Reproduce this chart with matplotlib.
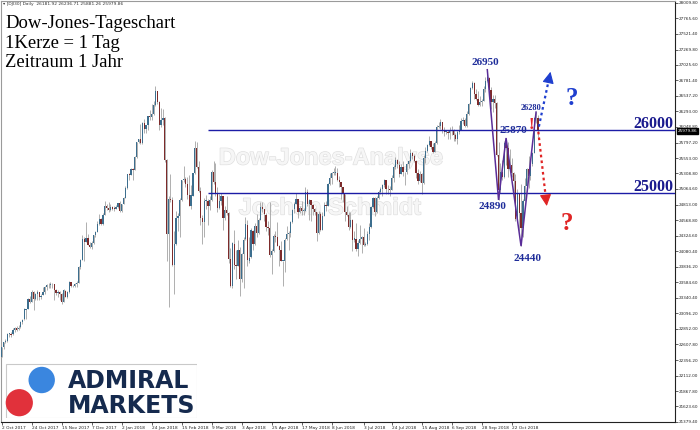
import matplotlib
matplotlib.use("Agg")
import matplotlib.pyplot as plt
import matplotlib.patheffects as pe
import matplotlib.transforms as mtransforms
from matplotlib.patches import Circle, Rectangle
import numpy as np
import pandas as pd

# ------------------------------------------------------------------ data
holidays = ["2017-12-25", "2018-01-01", "2018-03-30"]
trade_days = pd.bdate_range("2017-10-02", "2018-11-09").drop(pd.to_datetime(holidays))

opens = [
    # Oct 2017
    22405, 22560, 22640, 22665, 22770, 22775, 22765, 22830, 22870, 22845, 22875,
    22955, 23000, 23155, 23165, 23330, 23275, 23440, 23330, 23400, 23430, 23350,
    # Nov 2017
    23380, 23435, 23515, 23540, 23550, 23555, 23560, 23460, 23420, 23440, 23410,
    23275, 23455, 23360, 23430, 23590, 23525, 23530, 23560, 23580, 23835, 23940,
    # Dec 2017
    24270, 24230, 24290, 24180, 24140, 24210, 24330, 24385, 24505, 24585,
    24510, 24650, 24790, 24755, 24725, 24780, 24750, 24745, 24775, 24835,
    # Jan 2018
    24720, 24825, 24920, 25075, 25295, 25285, 25385, 25370, 25575, 25805, 25850,
    25790, 26115, 26015, 26070, 26215, 26210, 26250, 26390, 26615, 26440, 26075,
    # Feb 2018
    26150, 26185, 25520, 24345, 24910, 24890, 23860, 24190, 24600, 24640,
    24890, 25200, 25220, 25150, 24965, 24795, 24960, 25310, 25710, 25410,
    # Mar 2018
    25030, 24600, 24540, 24875, 24880, 24800, 24895, 25335, 25180, 25005, 24760,
    24875, 24945, 24610, 24730, 24680, 23955, 23530, 24200, 23855, 23850,
    # Apr 2018
    24100, 23645, 24030, 24265, 24500, 23930, 23980, 24405, 24190, 24480, 24360,
    24575, 24785, 24745, 24660, 24460, 24450, 24020, 24085, 24320, 24310,
    # May 2018
    24160, 24100, 23925, 23930, 24265, 24355, 24360, 24540, 24740, 24830, 24900, 24705,
    24770, 24715, 24715, 25015, 24830, 24885, 24810, 24750, 24700, 24360, 24665,
    # Jun 2018
    24415, 24635, 24815, 24800, 25145, 25240, 25320, 25320, 25320, 25200, 25175,
    25090, 24985, 24700, 24655, 24460, 24580, 24250, 24280, 24115, 24215,
    # Jul 2018
    24270, 24305, 24175, 24200, 24355, 24455, 24775, 24920, 24700, 24925, 25020,
    25065, 25120, 25200, 25065, 25060, 25045, 25240, 25415, 25525, 25450, 25305,
    # Aug 2018
    25415, 25330, 25325, 25460, 25500, 25630, 25580, 25510, 25310, 25185, 25300, 25160,
    25560, 25670, 25760, 25820, 25735, 25655, 25790, 26050, 26065, 26125, 25985,
    # Sep 2018
    25965, 25970, 25950, 25975, 25995, 25915, 25855, 25970, 26000, 26145,
    26155, 26060, 26245, 26405, 26655, 26740, 26560, 26490, 26385, 26440,
    # Oct 2018
    26460, 26650, 26775, 26825, 26625, 26445, 26485, 26430, 25595, 25050, 25340, 25250,
    25800, 25705, 25380, 25445, 25315, 25190, 24580, 24985, 24690, 24445, 24875,
    # Nov 2018
    25115, 25380, 25270, 25460, 25635, 26180, 26182,
]
highs = [
    22565, 22650, 22685, 22780, 22790, 22800, 22860, 22880, 22900, 22910, 22970,
    23005, 23175, 23170, 23340, 23370, 23460, 23450, 23420, 23460, 23440, 23400,
    23520, 23530, 23560, 23570, 23600, 23580, 23565, 23480, 23470, 23450, 23420,
    23480, 23470, 23450, 23610, 23600, 23540, 23570, 23610, 23850, 23960, 24330,
    24300, 24535, 24350, 24220, 24240, 24340, 24400, 24550, 24670, 24610,
    24690, 24880, 24830, 24850, 24830, 24790, 24790, 24810, 24840, 24870,
    24830, 24940, 25110, 25300, 25310, 25400, 25390, 25580, 25810, 25860, 26090,
    26130, 26170, 26080, 26220, 26310, 26400, 26460, 26690, 26620, 26450, 26340,
    26330, 26200, 25530, 24950, 25300, 24940, 24400, 24720, 24690, 24920,
    25200, 25430, 25260, 25250, 25280, 25120, 25320, 25820, 25800, 25500,
    25100, 24650, 24920, 24970, 24900, 24950, 25360, 25500, 25480, 25100, 24990,
    25000, 24950, 24790, 24950, 24700, 24130, 24230, 24420, 24100, 24250,
    24150, 24050, 24300, 24620, 24580, 24310, 24450, 24420, 24530, 24670, 24600,
    24860, 24860, 24750, 24680, 24560, 24860, 24120, 24350, 24400, 24540,
    24170, 24240, 23930, 24290, 24480, 24400, 24560, 24750, 24850, 25000, 24900, 24800,
    24880, 24770, 25090, 25070, 24900, 24890, 24830, 24760, 24700, 24720, 24700,
    24700, 24860, 24870, 25160, 25320, 25330, 25400, 25420, 25400, 25270, 25180,
    25100, 24990, 24800, 24700, 24700, 24590, 24400, 24530, 24250, 24500,
    24320, 24440, 24230, 24400, 24520, 24800, 24930, 24930, 24950, 25050, 25100,
    25150, 25220, 25210, 25130, 25110, 25290, 25450, 25570, 25540, 25500, 25460,
    25500, 25340, 25480, 25520, 25700, 25650, 25620, 25520, 25380, 25350, 25310, 25600,
    25720, 25780, 25900, 25830, 25790, 25820, 26080, 26130, 26170, 26130, 26040,
    25990, 26000, 26050, 26060, 26010, 25950, 26000, 26070, 26180, 26200,
    26190, 26290, 26420, 26680, 26770, 26750, 26640, 26620, 26530, 26480,
    26700, 26830, 26950, 26840, 26680, 26550, 26550, 26440, 25800, 25480, 25520, 25830,
    25870, 25800, 25700, 25560, 25330, 25300, 25070, 25000, 25150, 24900, 25240,
    25400, 25580, 25480, 25650, 26200, 26280, 26237,
]
lows = [
    22400, 22540, 22620, 22650, 22720, 22730, 22750, 22800, 22820, 22840, 22860,
    22930, 22995, 23000, 23160, 23260, 23270, 23150, 23300, 23300, 23300, 23330,
    23380, 23400, 23470, 23500, 23500, 23500, 23300, 23380, 23350, 23300, 23240,
    23270, 23350, 23340, 23425, 23510, 23510, 23520, 23520, 23570, 23800, 23935,
    23920, 24220, 24170, 24130, 24120, 24200, 24300, 24380, 24500, 24500,
    24500, 24650, 24730, 24700, 24720, 24730, 24720, 24740, 24760, 24700,
    24700, 24820, 24920, 25070, 25200, 25280, 25200, 25360, 25560, 25790, 25770,
    25780, 25950, 25950, 26000, 26150, 26150, 26240, 26380, 26400, 25990, 26050,
    26070, 25490, 23920, 23200, 24850, 23840, 23400, 24180, 24400, 24300,
    24870, 25180, 25100, 24900, 24790, 24750, 24950, 25300, 25390, 25020,
    24500, 24200, 24300, 24750, 24500, 24730, 24880, 25150, 24950, 24700, 24750,
    24810, 24410, 24580, 24650, 23900, 23510, 23500, 23800, 23640, 23850,
    23370, 23600, 23500, 24260, 23850, 23900, 23970, 24100, 24180, 24300, 24350,
    24570, 24700, 24550, 24400, 24330, 23990, 23720, 24070, 24230, 24160,
    23850, 23920, 23530, 23750, 24250, 24100, 24300, 24530, 24680, 24820, 24600, 24690,
    24650, 24660, 24710, 24800, 24580, 24550, 24650, 24650, 24240, 24350, 24400,
    24410, 24630, 24720, 24790, 25130, 25140, 25290, 25280, 25190, 25100, 24900,
    24850, 24560, 24640, 24420, 24450, 24080, 24230, 24090, 24000, 24200,
    24050, 24160, 24160, 24170, 24250, 24450, 24770, 24630, 24690, 24900, 24980,
    24950, 25100, 24980, 24990, 24960, 25040, 25180, 25380, 25390, 25260, 25300,
    25270, 25130, 25300, 25400, 25490, 25540, 25490, 25240, 25150, 25180, 24980, 25150,
    25480, 25650, 25740, 25700, 25640, 25650, 25780, 26030, 26020, 25950, 25900,
    25940, 25850, 25860, 25920, 25830, 25820, 25770, 25930, 25990, 26090,
    26040, 26040, 26240, 26400, 26640, 26480, 26470, 26370, 26380, 26370,
    26450, 26600, 26760, 26550, 26330, 26280, 26340, 25580, 24890, 25000, 25200, 25240,
    25450, 25260, 25370, 25250, 24890, 24560, 24550, 24400, 24160, 24300, 24870,
    25040, 25080, 25200, 25420, 25630, 26100, 25881,
]
closes = [
    22557, 22641, 22661, 22775, 22774, 22761, 22831, 22872, 22841, 22871, 22957,
    22997, 23158, 23163, 23329, 23274, 23441, 23330, 23401, 23434, 23349, 23377,
    23436, 23517, 23539, 23549, 23557, 23564, 23462, 23422, 23440, 23410, 23272,
    23458, 23358, 23431, 23591, 23526, 23530, 23558, 23580, 23836, 23940, 24272,
    24231, 24290, 24181, 24140, 24212, 24329, 24387, 24505, 24585, 24509,
    24652, 24792, 24755, 24726, 24782, 24754, 24746, 24775, 24838, 24719,
    24824, 24922, 25075, 25295, 25283, 25385, 25369, 25574, 25803, 25850, 25792,
    26115, 26017, 26071, 26214, 26210, 26252, 26392, 26616, 26439, 26076, 26149,
    26186, 25520, 24345, 24912, 24893, 23860, 24190, 24601, 24640, 24893,
    25200, 25219, 25150, 24964, 24797, 24962, 25310, 25709, 25410, 25029,
    24608, 24538, 24874, 24884, 24801, 24895, 25335, 25178, 25007, 24758, 24873,
    24946, 24610, 24727, 24682, 23957, 23533, 24202, 23857, 23848, 24103,
    23644, 24033, 24264, 24505, 23933, 23979, 24408, 24189, 24483, 24360, 24573,
    24786, 24748, 24664, 24463, 24449, 24024, 24084, 24322, 24311, 24163,
    24099, 23925, 23930, 24263, 24357, 24360, 24542, 24739, 24831, 24899, 24706, 24768,
    24713, 24715, 25013, 24834, 24886, 24811, 24753, 24700, 24361, 24667, 24416,
    24635, 24813, 24799, 25146, 25241, 25317, 25322, 25320, 25201, 25175, 25090,
    24987, 24700, 24657, 24461, 24580, 24252, 24283, 24117, 24216, 24271,
    24307, 24174, 24200, 24356, 24456, 24776, 24919, 24700, 24924, 25019, 25064,
    25120, 25199, 25064, 25058, 25044, 25241, 25414, 25527, 25451, 25307, 25415,
    25333, 25326, 25463, 25502, 25629, 25583, 25509, 25313, 25187, 25299, 25162, 25558,
    25669, 25758, 25822, 25733, 25656, 25790, 26049, 26064, 26124, 25986, 25964,
    25970, 25952, 25974, 25995, 25916, 25857, 25971, 25998, 26145, 26154,
    26062, 26246, 26405, 26656, 26743, 26562, 26492, 26385, 26439, 26458,
    26651, 26773, 26828, 26627, 26447, 26486, 26430, 25598, 25052, 25340, 25250, 25798,
    25706, 25379, 25444, 25317, 25191, 24583, 24984, 24688, 24443, 24875, 25116,
    25380, 25270, 25461, 25635, 26180, 26191, 25980,
]

xtick_dates = ["2017-10-02", "2017-10-24", "2017-11-15", "2017-12-07", "2018-01-02",
               "2018-01-24", "2018-02-15", "2018-03-09", "2018-04-03", "2018-04-25",
               "2018-05-17", "2018-06-08", "2018-07-03", "2018-07-24", "2018-08-15",
               "2018-09-06", "2018-09-28", "2018-10-22"]
xtick_labels = ["2 Oct 2017", "24 Oct 2017", "15 Nov 2017", "7 Dec 2017", "2 Jan 2018",
                "24 Jan 2018", "15 Feb 2018", "9 Mar 2018", "3 Apr 2018", "25 Apr 2018",
                "17 May 2018", "8 Jun 2018", "3 Jul 2018", "24 Jul 2018", "15 Aug 2018",
                "6 Sep 2018", "28 Sep 2018", "22 Oct 2018"]
ytick_values = [28009.80, 27765.60, 27521.40, 27269.80, 27025.60, 26781.40, 26537.20,
                26293.00, 26048.80, 25797.20, 25553.00, 25308.80, 25064.60, 24813.00,
                24568.80, 24324.60, 24080.40, 23836.20, 23584.60, 23340.40, 23096.20,
                22852.00, 22607.80, 22356.20, 22112.00, 21867.80, 21623.60, 21379.40]

levels = [26000, 25000]
level_labels = ["26000", "25000"]
level_start = "2018-03-07"

zz_dates = ["2018-10-03", "2018-10-11", "2018-10-17", "2018-10-29", "2018-11-08"]
zz_values = [26950, 24890, 25870, 24160, 26280]

last_price = 25979.86
header = "\u25be [DJI30] Daily  26181.92 26236.71 25881.26 25979.86"
title_lines = ["Dow-Jones-Tageschart", "1Kerze = 1 Tag", "Zeitraum 1 Jahr"]

# ------------------------------------------------------------------ figure
W, H = 700, 430
fig = plt.figure(figsize=(7, 4.3), dpi=100)
fig.patch.set_facecolor("white")

ax_l, ax_r, ax_t, ax_b = 1, 675, 1, 422
ax = fig.add_axes([ax_l / W, (H - ax_b) / H, (ax_r - ax_l) / W, (ax_b - ax_t) / H])
ax.set_facecolor("white")
ax.set_xlim(-0.35, 359.1)
ax.set_ylim(21378, 28037)

o = np.array(opens, float)
h = np.array(highs, float)
l = np.array(lows, float)
c = np.array(closes, float)
x = np.arange(len(c))
pos = {d: i for i, d in enumerate(trade_days)}

def bar_of(d):
    return pos[pd.Timestamp(d)]

bull_col = "#3c6e8e"
bear_col = "#7d2b2b"
wick_col = "#a2a2a2"

ax.vlines(x, l, h, color=wick_col, lw=0.6, zorder=2)
up = c >= o
bot = np.minimum(o, c)
hgt = np.maximum(np.abs(c - o), 10)
ax.bar(x[up], hgt[up], bottom=bot[up], width=0.68, color=bull_col, lw=0, zorder=3)
ax.bar(x[~up], hgt[~up], bottom=bot[~up], width=0.68, color=bear_col, lw=0, zorder=3)

# support / resistance lines
line_col = "#1c1ca6"
x_start = bar_of(level_start)
for lv, lab in zip(levels, level_labels):
    ax.hlines(lv, x_start, 359.1, color=line_col, lw=1.0, zorder=4)
    ax.annotate(lab, xy=(1.0, lv), xycoords=("axes fraction", "data"),
                xytext=(-1.5, 1.6), textcoords="offset points", ha="right", va="baseline",
                fontsize=11.5, fontweight="bold", family="Liberation Serif",
                color="#1a1a8e", zorder=6)

# zig-zag
zx = [bar_of(d) for d in zz_dates]
ax.plot(zx, zz_values, color="#5a2d98", lw=1.1, zorder=5, solid_joinstyle="miter")

num_col = "#1f2d9a"
ann = [("26950", 258.2, 27061, 8), ("24890", 262.0, 24783, 8), ("24440", 280.7, 23971, 8),
       ("25870", 273.0, 25996, 8), ("26280", 282.5, 26340, 6)]
for s, xx, yy, fs in ann:
    ax.text(xx, yy, s, ha="center", va="center", fontsize=fs, fontweight="bold",
            family="Liberation Serif", color=num_col, zorder=7)

ax.text(282.7, 26075, "!", ha="center", va="center", fontsize=12, fontweight="bold",
        family="Liberation Serif", color="#e3262e", zorder=7)

# dotted scenario arrows
def dotted_arrow(p0, p1, col):
    p0 = np.array(p0, float)
    p1 = np.array(p1, float)
    pm = p0 + 0.86 * (p1 - p0)
    ax.plot([p0[0], pm[0]], [p0[1], pm[1]], color=col, lw=1.6, ls=(0, (1.2, 1.4)),
            zorder=8, solid_capstyle="butt", dash_capstyle="butt")
    ax.annotate("", xy=tuple(p1), xytext=tuple(pm),
                arrowprops=dict(arrowstyle="-|>,head_length=0.7,head_width=0.35",
                                color=col, lw=0.8, shrinkA=0, shrinkB=0), zorder=8)

dotted_arrow((286.5, 26050), (292.7, 26918), "#1f3fcf")
dotted_arrow((286.2, 25969), (290.7, 24794), "#e02424")

ax.text(303.8, 26487, "?", ha="center", va="center", fontsize=18, fontweight="bold",
        family="Liberation Serif", color="#1f3fcf", zorder=7)
ax.text(301.5, 24520, "?", ha="center", va="center", fontsize=18, fontweight="bold",
        family="Liberation Serif", color="#e02424", zorder=7)

# watermark
wm_fx = [pe.withStroke(linewidth=0.9, foreground="#dedede")]
ax.text(331 / W, 1 - 158 / H, "Dow-Jones-Analyse", transform=fig.transFigure,
        ha="center", va="center", fontsize=17, fontweight="bold", family="Liberation Sans",
        color="#f6f6f6", path_effects=wm_fx, zorder=1)
ax.text(330 / W, 1 - 208 / H, "Jochen Schmidt", transform=fig.transFigure,
        ha="center", va="center", fontsize=17, fontweight="bold", family="Liberation Sans",
        color="#f6f6f6", path_effects=wm_fx, zorder=1)

# axes styling
for side in ["left", "top"]:
    ax.spines[side].set_color("#9a9a9a")
    ax.spines[side].set_linewidth(0.8)
for side in ["right", "bottom"]:
    ax.spines[side].set_color("#222222")
    ax.spines[side].set_linewidth(0.8)

ax.yaxis.tick_right()
ax.set_yticks(ytick_values)
ax.set_yticklabels([f"{v:.2f}" for v in ytick_values])
ax.tick_params(axis="y", length=2, width=0.5, pad=1.0, labelsize=3.0, colors="#222222")

ax.set_xticks([bar_of(d) for d in xtick_dates])
ax.set_xticklabels(xtick_labels, ha="left")
ax.tick_params(axis="x", length=2, width=0.5, pad=1.2, labelsize=3.1, colors="#222222")

# current price box
trans = mtransforms.blended_transform_factory(ax.transAxes, ax.transData)
ax.text(1.004, last_price, f"{last_price:.2f}", transform=trans, ha="left", va="center",
        fontsize=3.0, color="white", zorder=10, clip_on=False,
        bbox=dict(boxstyle="square,pad=0.25", fc="black", ec="black"))

# title & header
fig.text(3 / W, 1 - 4.5 / H, header, fontsize=3.2, color="#333333", va="center", ha="left")
for i, t in enumerate(title_lines):
    fig.text(5 / W, 1 - (28.5 + 19.2 * i) / H, t, fontsize=13.4, family="Liberation Serif",
             color="black", va="baseline", ha="left")

# logo
lg = fig.add_axes([5 / W, (H - 418) / H, 192 / W, 55 / H])
lg.set_xlim(0, 192)
lg.set_ylim(55, 0)
lg.axis("off")
lg.add_patch(Rectangle((0.5, 0.5), 191, 54, fc="white", ec="#c9c9c9", lw=0.8))
lg.add_patch(Circle((36.7, 17), 13.2, fc="#3a86df", ec="none"))
lg.add_patch(Circle((14.3, 39.7), 13.6, fc="#e1313b", ec="none"))
lg.text(63, 17.5, "ADMIRAL", fontsize=17, fontweight="bold", family="DejaVu Sans",
        color="#152a4e", va="center", ha="left")
lg.text(63, 43, "MARKETS", fontsize=17, fontweight="bold", family="DejaVu Sans",
        color="#152a4e", va="center", ha="left")

fig.savefig("out.png", dpi=100, facecolor="white")
